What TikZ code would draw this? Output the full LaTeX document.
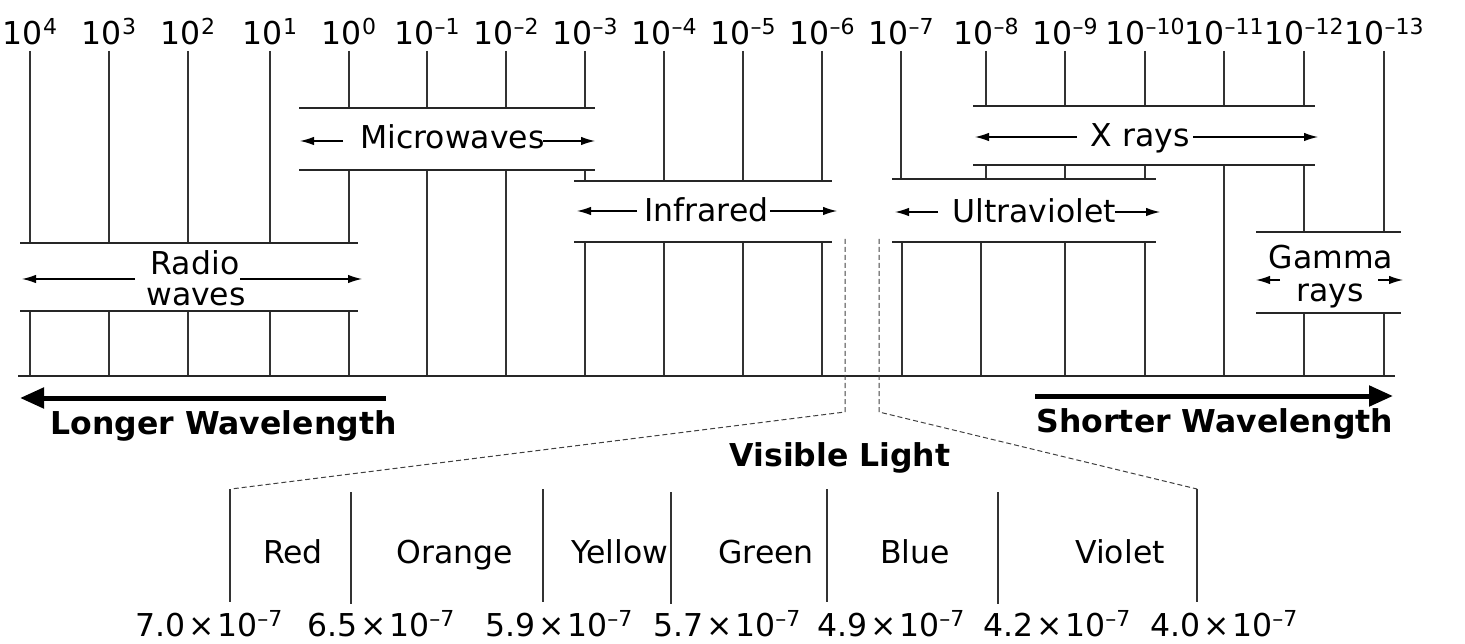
\documentclass[tikz,border=0pt]{standalone}
\usepackage{fontspec}
\setmainfont{DejaVu Sans}
\usetikzlibrary{arrows.meta}
\newcommand{\myexp}[1]{\raisebox{10pt}{\fontsize{22}{22}\selectfont #1}}
\newcommand{\tpow}[1]{10\myexp{#1}}
\newcommand{\tms}{\hspace{2.5pt}×\hspace{2.5pt}}
\begin{document}
\begin{tikzpicture}[x=1pt,y=-1pt,
  font=\fontsize{31.5}{36}\selectfont,
  tickline/.style={line width=1.2pt,draw=black!80},
  bandline/.style={line width=1.3pt,draw=black!85},
  bandarrow/.style={line width=1.2pt,-{Latex[length=14pt,width=8.5pt]}},
  bigarrow/.style={line width=5pt,-{Triangle[length=24pt,width=20pt]}},
  dashline/.style={line width=1pt,draw=black!75,dash pattern=on 5pt off 3pt},
  lbl/.style={anchor=base,inner sep=0pt},
  boldlbl/.style={lbl,font=\fontsize{31.5}{36}\selectfont\bfseries}]
\useasboundingbox (0,0) rectangle (1465,644);

% top wavelength labels
\foreach \xx/\ee [count=\i] in {30/4,109/3,188/2,270/1,349/0,427/–1,506/–2,585/–3,664/–4,743/–5,822/–6,901/–7,986/–8,1065/–9,1145/–10,1224/–11,1304/–12,1384/–13}
  \node[lbl] (t\i) at (\xx,45) {\tpow{\ee}};

% tick lines
\foreach \xx in {30,109,188,270}{
  \draw[tickline] (\xx,51) -- (\xx,243);
  \draw[tickline] (\xx,311) -- (\xx,376);}
\draw[tickline] (349,51) -- (349,108) (349,170) -- (349,243) (349,311) -- (349,376);
\foreach \xx in {427,506}
  \draw[tickline] (\xx,51) -- (\xx,108) (\xx,170) -- (\xx,376);
\draw[tickline] (585,51) -- (585,108) (585,170) -- (585,181) (585,242) -- (585,376);
\foreach \xx in {664,743,822}
  \draw[tickline] (\xx,51) -- (\xx,181) (\xx,242) -- (\xx,376);
\draw[tickline] (901,51) -- (901,179) (902,242) -- (902,376);
\draw[tickline] (986,51) -- (986,106) (986,165) -- (986,179) (981,242) -- (981,376);
\foreach \xx in {1065,1145}
  \draw[tickline] (\xx,51) -- (\xx,106) (\xx,165) -- (\xx,179) (\xx,242) -- (\xx,376);
\draw[tickline] (1224,51) -- (1224,106) (1224,165) -- (1224,376);
\draw[tickline] (1304,51) -- (1304,106) (1304,165) -- (1304,232) (1304,313) -- (1304,376);
\draw[tickline] (1384,51) -- (1384,232) (1384,313) -- (1384,376);

% axis
\draw[bandline] (18,376) -- (1395,376);

% band borders
\draw[bandline] (20,243) -- (358,243) (20,311) -- (358,311);
\draw[bandline] (299,108) -- (595,108) (299,170) -- (595,170);
\draw[bandline] (574,181) -- (832,181) (574,242) -- (832,242);
\draw[bandline] (892,179) -- (1156,179) (892,242) -- (1156,242);
\draw[bandline] (973,106) -- (1315,106) (973,165) -- (1315,165);
\draw[bandline] (1256,232) -- (1401,232) (1256,313) -- (1401,313);

% band labels and arrows
\node[lbl] (radio1) at (195,275) {Radio};
\node[lbl] (radio2) at (196,306) {waves};
\draw[bandarrow] (135,279) -- (22,279);
\draw[bandarrow] (240,279) -- (362,279);

\node[lbl] (micro) at (452.5,149) {Microwaves};
\draw[bandarrow] (343,141) -- (300,141);
\draw[bandarrow] (543,141) -- (595,141);

\node[lbl] (ir) at (706.5,222) {Infrared};
\draw[bandarrow] (637,211) -- (577,211);
\draw[bandarrow] (770,211) -- (837,211);

\node[lbl] (uv) at (1034,223) {Ultraviolet};
\draw[bandarrow] (938,212) -- (895,212);
\draw[bandarrow] (1115,212) -- (1160,212);

\node[lbl] (xr) at (1140,147) {X rays};
\draw[bandarrow] (1077,137) -- (975,137);
\draw[bandarrow] (1193,137) -- (1318,137);

\node[lbl] (gam1) at (1331,269) {Gamma};
\node[lbl] (gam2) at (1330,302) {rays};
\draw[bandarrow] (1280,280) -- (1256,280);
\draw[bandarrow] (1378,280) -- (1403,280);

% direction arrows
\draw[bigarrow] (386,398) -- (20,398);
\node[boldlbl] (longer) at (223.5,434) {Longer Wavelength};
\draw[bigarrow] (1035,396) -- (1393,396);
\node[boldlbl] (shorter) at (1215,432) {Shorter Wavelength};

% visible light zoom
\coordinate (dl) at (845,239);
\coordinate (dr) at (879,239);
\draw[dashline] (dl) -- (845,412) -- (231,489);
\draw[dashline] (dr) -- (879,412) -- (1197,489);
\node[boldlbl] (vis) at (840,466) {Visible Light};

\draw[tickline] (230,489) -- (230,602);
\draw[tickline] (351,492) -- (351,604);
\draw[tickline] (543,489) -- (543,602);
\draw[tickline] (671,492) -- (671,604);
\draw[tickline] (827,489) -- (827,602);
\draw[tickline] (998,492) -- (998,604);
\draw[tickline] (1197,489) -- (1197,602);

\node[lbl] (red) at (293,563) {Red};
\node[lbl] (orange) at (455,563) {Orange};
\node[lbl] (yellow) at (620,563) {Yellow};
\node[lbl] (green) at (766,563) {Green};
\node[lbl] (blue) at (915,563) {Blue};
\node[lbl] (violet) at (1120,563) {Violet};

\foreach \xx/\vv [count=\i] in {209/7.0,381/6.5,559/5.9,727/5.7,891/4.9,1057/4.2,1224/4.0}
  \node[lbl] (v\i) at (\xx,636) {\vv\tms\tpow{–7}};
\end{tikzpicture}
\end{document}
